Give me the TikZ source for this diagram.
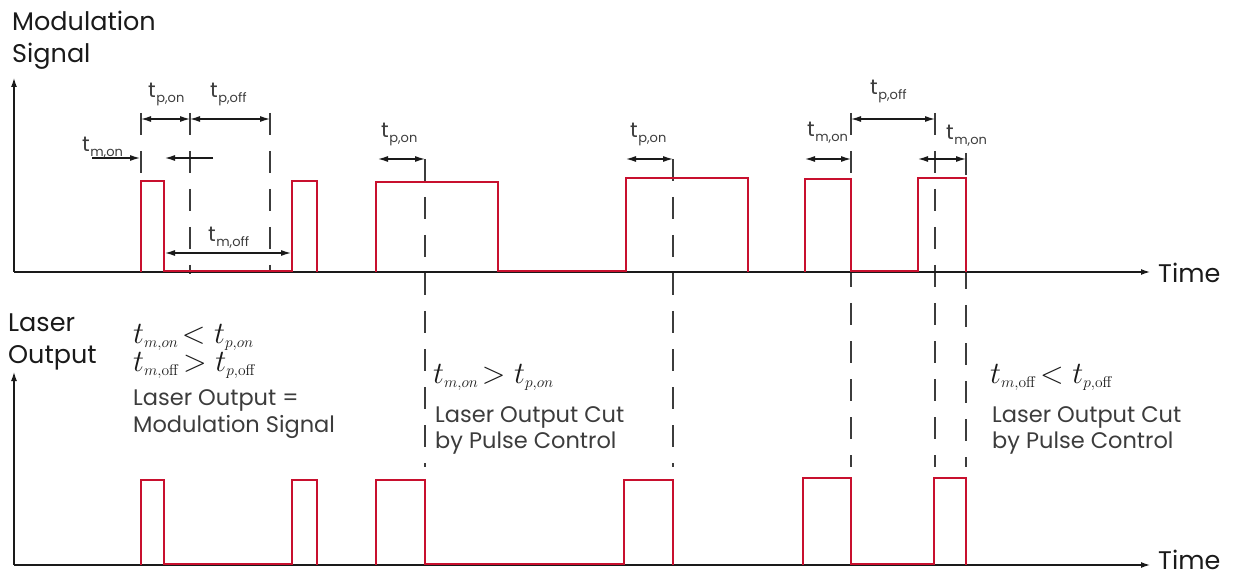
\documentclass[tikz,border=0pt]{standalone}
\usepackage{fix-cm}
\usepackage[no-math]{fontspec}
\setmainfont{Poppins}
\usetikzlibrary{arrows.meta}
\definecolor{sigred}{HTML}{C8102E}
\definecolor{ink}{HTML}{1A1A1A}
\newcommand{\tsub}[1]{t\kern0.5pt\raisebox{-5pt}{\fontsize{13}{13}\selectfont #1}}
\newcommand{\sub}[1]{_{\scriptscriptstyle #1}}
\begin{document}
\begin{tikzpicture}[x=1pt,y=-1pt,
 axis/.style={line width=1.3pt, draw=ink, -{Latex[length=9pt,width=6pt]}},
 sig/.style={draw=sigred, line width=2.4pt, line join=miter},
 guide/.style={line width=1.2pt, dash pattern=on 22pt off 16pt, draw=ink!85},
 dim/.style={line width=1.2pt, draw=ink, {Latex[length=10pt,width=6pt]}-{Latex[length=10pt,width=6pt]}},
 one/.style={line width=1.2pt, draw=ink, -{Latex[length=10pt,width=6pt]}},
 lbl/.style={font=\fontsize{25.5}{30}\selectfont, text=ink, inner sep=0pt, anchor=base west},
 tlab/.style={font=\fontsize{21}{24}\selectfont, text=ink!85, inner sep=0pt, anchor=base west},
 txt/.style={font=\fontsize{22.5}{27}\selectfont, text=ink!85, inner sep=0pt, anchor=base west},
 frm/.style={font=\fontsize{31}{34}\selectfont, text=ink, inner sep=0pt, anchor=base west},
]
\useasboundingbox (0,0) rectangle (1234,577);

% axis labels
\node[lbl] (ms1) at (12,31) {Modulation};
\node[lbl] (ms2) at (12,63) {Signal};
\node[lbl] (lo1) at (8,331) {Laser};
\node[lbl] (lo2) at (8,363) {Output};
\node[lbl] (tm1) at (1158,283) {Time};
\node[lbl] (tm2) at (1158,569) {Time};

% guide lines
\draw[guide] (141,113) -- (141,272);
\draw[guide] (190,113) -- (190,274);
\draw[guide] (270,113) -- (270,272);
\draw[guide] (425,159) -- (425,467);
\draw[guide] (673,159) -- (673,467);
\draw[guide] (851,113) -- (851,467);
\draw[guide] (935,113) -- (935,467);
\draw[guide] (966,153) -- (966,467);

% axes
\coordinate (o1) at (14,272);
\coordinate (o2) at (14,565);
\draw[axis] (o1) -- (14,78);
\draw[axis] (o1) -- (1150,272);
\draw[axis] (o2) -- (14,372);
\draw[axis] (o2) -- (1150,565);

% modulation signal
\draw[sig] (141,272) -- (141,181) -- (164,181) -- (164,271) -- (292,271) -- (292,181) -- (317,181) -- (317,272);
\draw[sig] (376,272) -- (376,182) -- (498,182) -- (498,271) -- (626,271) -- (626,178) -- (748,178) -- (748,272);
\draw[sig] (805,272) -- (805,179) -- (851,179) -- (851,271) -- (918,271) -- (918,178) -- (966,178) -- (966,272);

% laser output
\draw[sig] (141,565) -- (141,480) -- (164,480) -- (164,564) -- (292,564) -- (292,480) -- (317,480) -- (317,565);
\draw[sig] (376,565) -- (376,480) -- (425,480) -- (425,564) -- (624,564) -- (624,480) -- (673,480) -- (673,565);
\draw[sig] (803,565) -- (803,478) -- (851,478) -- (851,564) -- (934,564) -- (934,478) -- (966,478) -- (966,565);

% dimension arrows
\draw[dim] (141,119) -- (190,119);
\draw[dim] (190,119) -- (270,119);
\draw[one] (92,158) -- (140,158);
\draw[one] (213,158) -- (165,158);
\draw[dim] (165,253) -- (291,253);
\draw[dim] (378,159) -- (425,159);
\draw[dim] (626,159) -- (673,159);
\draw[dim] (805,159) -- (851,159);
\draw[dim] (851,119) -- (935,119);
\draw[dim] (918,159) -- (966,159);

% time labels
\node[tlab] (a1) at (148,98) {\tsub{p,on}};
\node[tlab] (a2) at (210,98) {\tsub{p,off}};
\node[tlab] (a3) at (82,152) {\tsub{m,on}};
\node[tlab] (a4) at (208,242) {\tsub{m,off}};
\node[tlab] (a5) at (381,138) {\tsub{p,on}};
\node[tlab] (a6) at (630,138) {\tsub{p,on}};
\node[tlab] (a7) at (870,95) {\tsub{p,off}};
\node[tlab] (a8) at (807,137) {\tsub{m,on}};
\node[tlab] (a9) at (946,140) {\tsub{m,on}};

% conditions
\node[frm] (f1) at (133,343) {$t\sub{m,on}\!<t\sub{p,on}$};
\node[frm] (f2) at (133,371) {$t\sub{m,\mathrm{off}}\!>t\sub{p,\mathrm{off}}$};
\node[txt] (c1) at (133,405) {Laser Output =};
\node[txt] (c2) at (133,432) {Modulation Signal};
\node[frm] (f3) at (433,383) {$t\sub{m,on}\!>t\sub{p,on}$};
\node[txt] (c3) at (435,422) {Laser Output Cut};
\node[txt] (c4) at (435,448) {by Pulse Control};
\node[frm] (f4) at (990,383) {$t\sub{m,\mathrm{off}}\!<t\sub{p,\mathrm{off}}$};
\node[txt] (c5) at (992,422) {Laser Output Cut};
\node[txt] (c6) at (992,448) {by Pulse Control};
\end{tikzpicture}
\end{document}
